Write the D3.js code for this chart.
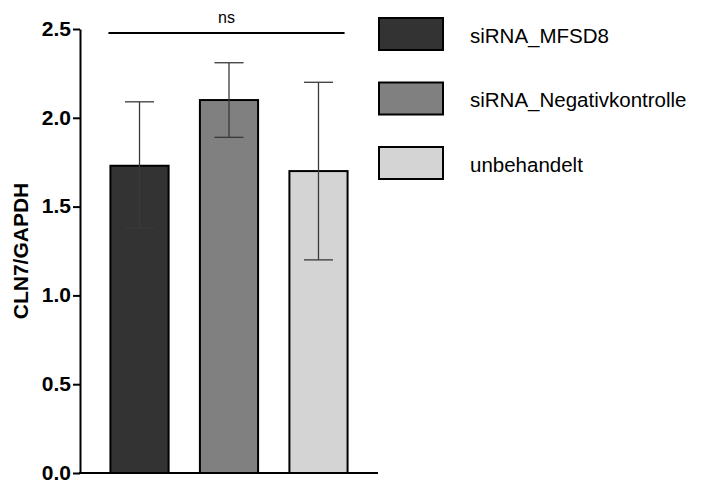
<!DOCTYPE html>
<html>
<head>
<meta charset="utf-8">
<script src="https://cdn.jsdelivr.net/npm/d3@7"></script>
<style>
  body { margin: 0; background: #fff; }
  text { font-family: "Liberation Sans", Arial, sans-serif; }
</style>
</head>
<body>
<script>
// data
const groups = ["siRNA_MFSD8", "siRNA_Negativkontrolle", "unbehandelt"];
const means = [1.73, 2.10, 1.70];
const errLow = [1.38, 1.89, 1.20];
const errHigh = [2.09, 2.31, 2.20];
const colors = ["#333333", "#808080", "#d4d4d4"];
const yTicks = [0.0, 0.5, 1.0, 1.5, 2.0, 2.5];

const width = 701, height = 483;
const svg = d3.select("body").append("svg")
    .attr("width", width)
    .attr("height", height);

// plot area
const x0 = 80, x1 = 378, yTop = 29, yBot = 473;

const y = d3.scaleLinear().domain([0, 2.5]).range([yBot, yTop]);
const x = d3.scaleBand().domain(groups).range([x0, x1]).paddingInner(0.35).paddingOuter(0.34);

// bars
svg.selectAll("rect.bar")
    .data(groups)
    .enter().append("rect")
    .attr("class", "bar")
    .attr("x", d => x(d))
    .attr("y", (d, i) => y(means[i]))
    .attr("width", x.bandwidth())
    .attr("height", (d, i) => y(0) - y(means[i]))
    .attr("fill", (d, i) => colors[i])
    .attr("stroke", "#000")
    .attr("stroke-width", 2);

// error bars
const cap = x.bandwidth() / 4;
groups.forEach(function (g, i) {
    var cx = x(g) + x.bandwidth() / 2;
    var eb = svg.append("g").attr("stroke", "#3a3a3a").attr("stroke-width", 1.3);
    eb.append("line").attr("x1", cx).attr("x2", cx).attr("y1", y(errHigh[i])).attr("y2", y(errLow[i]));
    eb.append("line").attr("x1", cx - cap).attr("x2", cx + cap).attr("y1", y(errHigh[i])).attr("y2", y(errHigh[i]));
    eb.append("line").attr("x1", cx - cap).attr("x2", cx + cap).attr("y1", y(errLow[i])).attr("y2", y(errLow[i]));
});

// y axis
const yAxis = d3.axisLeft(y).tickValues(yTicks).tickFormat(d3.format(".1f")).tickSize(7).tickSizeOuter(0);
const ya = svg.append("g").attr("transform", "translate(" + x0 + ",0)").call(yAxis);
ya.select(".domain").attr("stroke", "#000").attr("stroke-width", 2);
ya.selectAll(".tick line").attr("stroke", "#000").attr("stroke-width", 2);
ya.selectAll(".tick text")
    .attr("x", -9)
    .attr("dy", "0.3em")
    .style("font-size", "21px")
    .style("font-weight", "bold")
    .attr("fill", "#000");

// x axis baseline
svg.append("line")
    .attr("x1", x0 - 1).attr("x2", x1)
    .attr("y1", yBot).attr("y2", yBot)
    .attr("stroke", "#000").attr("stroke-width", 2);

// y label
svg.append("text")
    .attr("transform", "translate(28," + ((yTop + yBot) / 2) + ") rotate(-90)")
    .attr("text-anchor", "middle")
    .style("font-size", "21px")
    .style("font-weight", "bold")
    .text("CLN7/GAPDH");

// significance bracket
const sx1 = x(groups[0]) - 2, sx2 = x(groups[2]) + x.bandwidth() - 3;
svg.append("line")
    .attr("x1", sx1).attr("x2", sx2)
    .attr("y1", 33).attr("y2", 33)
    .attr("stroke", "#000").attr("stroke-width", 2);
svg.append("text")
    .attr("x", (sx1 + sx2) / 2).attr("y", 23)
    .attr("text-anchor", "middle")
    .style("font-size", "16px")
    .text("ns");

// legend
const leg = svg.append("g").attr("transform", "translate(379,18)");
groups.forEach(function (g, i) {
    var row = leg.append("g").attr("transform", "translate(0," + (i * 64.5) + ")");
    row.append("rect")
        .attr("width", 64).attr("height", 32)
        .attr("fill", colors[i])
        .attr("stroke", "#000").attr("stroke-width", 2);
    row.append("text")
        .attr("x", 91).attr("y", 17)
        .attr("dominant-baseline", "central")
        .style("font-size", "20.5px")
        .text(g);
});
</script>
</body>
</html>
